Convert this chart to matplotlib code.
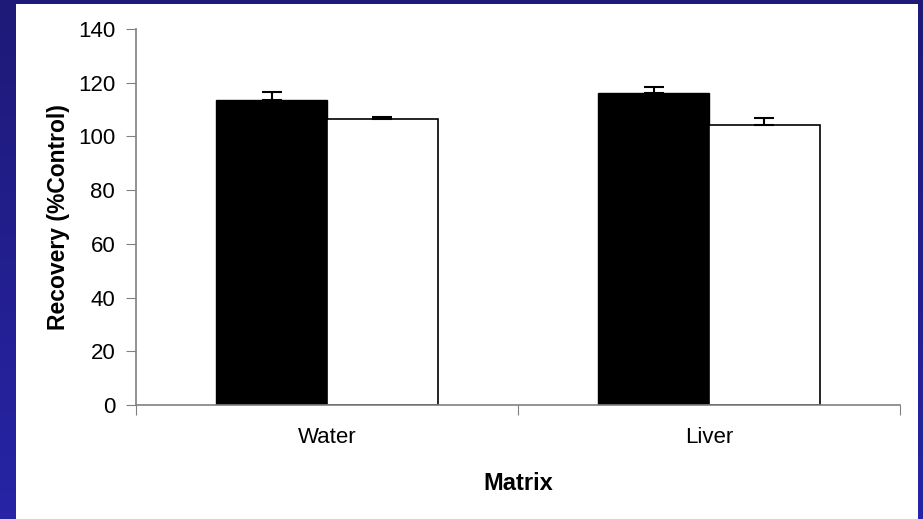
import matplotlib
matplotlib.use("Agg")
import matplotlib.pyplot as plt
from matplotlib.colors import LinearSegmentedColormap
from matplotlib.patches import Rectangle
import numpy as np

plt.rcParams['font.family'] = ['Liberation Sans', 'DejaVu Sans']

# dados
categorias = ["Water", "Liver"]
serie_preta = [113.5, 116.0]
erro_preta = [3.0, 2.5]
serie_branca = [106.6, 104.4]
erro_branca = [0.5, 2.3]

fig = plt.figure(figsize=(9.23, 5.19), dpi=100)

# fundo azul em degradê
fundo = fig.add_axes([0, 0, 1, 1], zorder=-20)
fundo.axis('off')
cmap_azul = LinearSegmentedColormap.from_list('azul', ['#1e1a78', '#2724a6'])
fundo.imshow(np.linspace(0, 1, 100).reshape(-1, 1), cmap=cmap_azul, aspect='auto',
             extent=[0, 1, 0, 1], origin='upper')
fundo.set_xlim(0, 1)
fundo.set_ylim(0, 1)
# painel branco
fundo.add_patch(Rectangle((16 / 923, 0), (918 - 16) / 923, 1 - 4 / 519,
                          facecolor='white', edgecolor='none'))

ax = fig.add_axes([136 / 923, 1 - 405 / 519, (900 - 136) / 923, (405 - 29) / 519])
ax.set_facecolor('none')

x = np.arange(len(categorias))
larg = 0.29
ax.bar(x - larg / 2, serie_preta, larg, color='black', edgecolor='black', linewidth=1,
       yerr=[np.zeros(2), erro_preta], capsize=7,
       error_kw=dict(ecolor='black', elinewidth=1.5, capthick=1.5))
ax.bar(x + larg / 2, serie_branca, larg, color='white', edgecolor='black', linewidth=1.2,
       yerr=[np.zeros(2), erro_branca], capsize=7,
       error_kw=dict(ecolor='black', elinewidth=1.5, capthick=1.5))

ax.set_xlim(-0.5, 1.5)
ax.set_ylim(0, 140)
ax.set_yticks(range(0, 141, 20))

# ticks do eixo x nas divisas das categorias
ax.set_xticks([-0.5, 0.5, 1.5])
ax.set_xticklabels([])
ax.set_xticks(x, minor=True)
ax.set_xticklabels(categorias, minor=True, fontsize=16)
ax.tick_params(axis='x', which='minor', length=0, pad=16)
ax.tick_params(axis='x', which='major', length=7, direction='out', color='#808080')
ax.tick_params(axis='y', length=7, direction='out', color='#808080', labelsize=16, pad=8)

for lado in ['top', 'right']:
    ax.spines[lado].set_visible(False)
for lado in ['left', 'bottom']:
    ax.spines[lado].set_color('#808080')
    ax.spines[lado].set_linewidth(1.2)

ax.set_ylabel("Recovery (%Control)", fontsize=16.5, fontweight='bold', labelpad=6)
ax.set_xlabel("Matrix", fontsize=17, fontweight='bold', labelpad=17)

fig.savefig("out.png", dpi=100)
